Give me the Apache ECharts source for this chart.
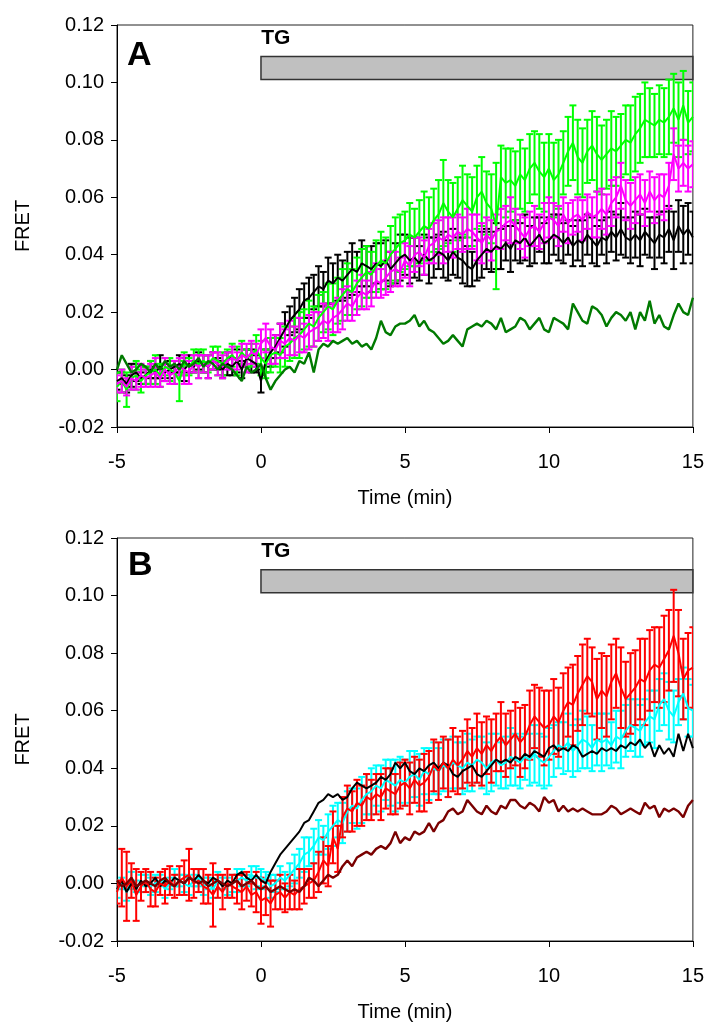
<!DOCTYPE html>
<html><head><meta charset="utf-8">
<script src="https://cdn.jsdelivr.net/npm/echarts@6/dist/echarts.min.js"></script>
<style>html,body{margin:0;padding:0;background:#fff}#c{width:707px;height:1026px}</style>
</head><body><div id="c"></div><script>
// Sampling: one point every 10 s from -5 to 15 min
const sampleStartMin = -5, sampleStepMin = 1 / 6, sampleCount = 121;
const times = Array.from({length: sampleCount}, (_, i) => +(sampleStartMin + i * sampleStepMin).toFixed(4));

const xTicks = [-5, 0, 5, 10, 15];
const yTicks = [-0.02, 0.00, 0.02, 0.04, 0.06, 0.08, 0.10, 0.12];
const tgBar = {start: 0, end: 15, bottom: 0.101, top: 0.109, label: 'TG'};

// ---------- Panel A ----------
const aBlack = [
-0.004,-0.003,-0.005,-0.002,-0.001,-0.003,
-0.002,0.000,-0.001,0.001,-0.001,0.000,
0.001,0.002,0.000,0.002,0.001,0.003,
0.002,0.001,0.003,0.002,0.000,0.002,
0.001,0.003,0.000,0.004,0.003,0.002,
-0.004,
0.003,0.006,0.008,0.011,0.014,
0.017,0.019,0.021,0.024,0.025,0.027,
0.029,0.028,0.031,0.030,0.032,0.031,
0.033,0.035,0.034,0.037,0.036,0.035,
0.037,0.036,0.038,0.035,0.037,0.039,
0.040,0.038,0.039,0.037,0.040,0.038,
0.039,0.041,0.040,0.038,0.041,0.039,
0.038,0.036,0.035,0.038,0.040,0.042,
0.041,0.043,0.042,0.044,0.042,0.045,
0.044,0.046,0.043,0.045,0.047,0.044,
0.045,0.047,0.046,0.044,0.046,0.043,
0.045,0.044,0.047,0.045,0.043,0.046,
0.045,0.048,0.046,0.049,0.046,0.045,
0.047,0.045,0.048,0.046,0.044,0.047,
0.046,0.049,0.045,0.050,0.047,0.049,
0.046];
const aBlackErr = [
0.003,0.002,0.003,0.004,0.003,0.002,
0.003,0.003,0.002,0.004,0.003,0.003,
0.002,0.003,0.004,0.003,0.002,0.003,
0.003,0.004,0.003,0.002,0.003,0.004,
0.003,0.004,0.003,0.003,0.004,0.003,
0.004,
0.004,0.005,0.004,0.005,0.006,
0.005,0.006,0.007,0.006,0.007,0.006,
0.007,0.006,0.008,0.007,0.008,0.007,
0.008,0.009,0.007,0.008,0.007,0.008,
0.007,0.008,0.007,0.006,0.007,0.008,
0.007,0.008,0.007,0.006,0.007,0.008,
0.007,0.006,0.008,0.007,0.008,0.007,
0.008,0.007,0.006,0.007,0.008,0.007,
0.007,0.008,0.007,0.006,0.008,0.007,
0.007,0.008,0.007,0.008,0.006,0.007,
0.008,0.007,0.008,0.007,0.006,0.007,
0.007,0.008,0.007,0.008,0.007,0.006,
0.008,0.007,0.008,0.009,0.007,0.008,
0.008,0.009,0.008,0.007,0.009,0.008,
0.009,0.008,0.010,0.009,0.010,0.009,
0.009];
const aLime = [
-0.006,-0.004,-0.007,-0.003,-0.002,-0.004,
-0.002,-0.001,0.000,-0.002,0.001,0.000,
-0.001,-0.004,0.002,0.001,0.003,0.002,
0.003,0.002,0.004,0.003,0.002,0.004,
0.005,0.003,0.006,0.004,0.005,0.007,
0.004,
0.002,0.005,0.006,0.005,0.008,
0.009,0.011,0.012,0.014,0.016,0.015,
0.018,0.020,0.022,0.021,0.024,0.026,
0.028,0.027,0.030,0.032,0.034,0.033,
0.036,0.038,0.037,0.040,0.042,0.044,
0.045,0.047,0.046,0.048,0.050,0.049,
0.052,0.054,0.058,0.055,0.053,0.056,
0.059,0.057,0.055,0.060,0.062,0.058,
0.056,0.050,0.067,0.065,0.066,0.064,
0.068,0.066,0.070,0.072,0.069,0.067,
0.070,0.066,0.068,0.072,0.076,0.079,
0.074,0.072,0.076,0.078,0.075,0.073,
0.075,0.077,0.076,0.078,0.080,0.079,
0.082,0.084,0.087,0.086,0.085,0.087,
0.086,0.088,0.091,0.087,0.092,0.086,
0.088];
const aLimeErr = [
0.005,0.004,0.006,0.004,0.005,0.004,
0.003,0.004,0.005,0.004,0.003,0.004,
0.004,0.007,0.004,0.003,0.004,0.005,
0.004,0.003,0.004,0.005,0.004,0.003,
0.004,0.005,0.004,0.003,0.004,0.005,
0.006,
0.005,0.006,0.005,0.006,0.007,
0.006,0.007,0.008,0.007,0.008,0.007,
0.008,0.007,0.008,0.009,0.008,0.009,
0.009,0.008,0.009,0.010,0.009,0.008,
0.009,0.010,0.009,0.010,0.011,0.010,
0.010,0.011,0.010,0.011,0.012,0.011,
0.011,0.012,0.015,0.011,0.012,0.011,
0.012,0.011,0.012,0.011,0.012,0.011,
0.012,0.022,0.011,0.012,0.011,0.012,
0.012,0.011,0.012,0.011,0.013,0.012,
0.012,0.013,0.012,0.011,0.012,0.013,
0.013,0.012,0.011,0.012,0.013,0.012,
0.012,0.013,0.012,0.011,0.012,0.013,
0.013,0.012,0.013,0.012,0.011,0.012,
0.012,0.013,0.012,0.013,0.012,0.011,
0.012];
const aMagenta = [
-0.005,-0.004,-0.006,-0.003,-0.004,-0.002,
-0.003,-0.002,-0.001,-0.003,0.000,-0.002,
-0.001,0.001,0.000,-0.001,0.002,0.001,
0.002,0.001,0.003,0.002,0.001,0.003,
0.004,0.003,0.005,0.004,0.006,0.005,
0.009,
0.011,0.008,0.007,0.010,0.009,
0.011,0.010,0.012,0.011,0.013,0.014,
0.015,0.017,0.016,0.018,0.019,0.021,
0.023,0.022,0.025,0.027,0.026,0.028,
0.031,0.030,0.032,0.034,0.035,0.034,
0.038,0.036,0.040,0.041,0.039,0.043,
0.044,0.046,0.045,0.047,0.046,0.048,
0.047,0.049,0.048,0.046,0.044,0.047,
0.045,0.048,0.049,0.051,0.052,0.050,
0.048,0.046,0.049,0.050,0.048,0.051,
0.053,0.052,0.050,0.054,0.051,0.053,
0.054,0.052,0.055,0.053,0.054,0.056,
0.054,0.058,0.060,0.064,0.059,0.057,
0.059,0.061,0.058,0.062,0.059,0.061,
0.060,0.064,0.075,0.070,0.072,0.070,
0.0715];
const aMagentaErr = [
0.003,0.004,0.003,0.004,0.003,0.004,
0.003,0.004,0.005,0.003,0.004,0.003,
0.004,0.003,0.005,0.004,0.003,0.004,
0.003,0.004,0.003,0.004,0.004,0.003,
0.004,0.003,0.004,0.005,0.004,0.004,
0.005,
0.005,0.006,0.005,0.006,0.005,
0.006,0.005,0.006,0.005,0.006,0.006,
0.005,0.006,0.006,0.005,0.006,0.007,
0.006,0.005,0.006,0.006,0.005,0.006,
0.006,0.005,0.006,0.007,0.006,0.005,
0.006,0.007,0.006,0.005,0.006,0.006,
0.007,0.006,0.008,0.006,0.007,0.006,
0.006,0.007,0.006,0.008,0.007,0.006,
0.007,0.006,0.007,0.006,0.008,0.006,
0.006,0.007,0.006,0.007,0.006,0.007,
0.007,0.006,0.007,0.006,0.007,0.006,
0.006,0.007,0.006,0.007,0.008,0.007,
0.007,0.008,0.007,0.008,0.007,0.008,
0.008,0.007,0.008,0.007,0.008,0.007,
0.008,0.008,0.009,0.008,0.008,0.008,
0.008];
const aDarkGreen = [
0.000,0.005,0.002,-0.001,0.000,0.002,
0.001,-0.001,0.002,0.000,0.003,0.001,
0.002,0.000,0.003,0.001,0.002,0.004,
0.001,0.003,0.002,0.000,0.002,0.001,
0.000,-0.002,-0.004,0.001,-0.001,0.000,
0.002,
-0.003,-0.007,-0.004,-0.002,0.000,
0.001,-0.001,0.003,0.002,0.006,-0.001,
0.007,0.009,0.008,0.010,0.009,0.010,
0.011,0.009,0.010,0.008,0.009,0.007,
0.011,0.017,0.013,0.012,0.015,0.016,
0.016,0.017,0.019,0.015,0.017,0.014,
0.013,0.011,0.009,0.010,0.012,0.010,
0.008,0.014,0.015,0.016,0.015,0.017,
0.016,0.014,0.018,0.013,0.014,0.015,
0.018,0.017,0.014,0.016,0.018,0.014,
0.013,0.018,0.017,0.016,0.014,0.023,
0.020,0.017,0.016,0.022,0.021,0.019,
0.015,0.018,0.020,0.019,0.017,0.020,
0.014,0.020,0.017,0.024,0.016,0.019,
0.015,0.014,0.019,0.023,0.020,0.019,
0.025];

// ---------- Panel B ----------
const bBlack = [
-0.002,0.001,-0.003,0.000,-0.002,0.001,
-0.001,0.000,0.002,-0.001,0.001,0.000,
0.002,0.001,0.000,0.002,0.001,0.003,
0.001,0.000,0.002,0.001,-0.001,0.001,
0.000,0.003,0.004,0.002,0.001,0.003,
0.001,
0.000,0.004,0.007,0.010,0.012,
0.014,0.016,0.018,0.021,0.022,0.025,
0.028,0.029,0.031,0.030,0.031,0.029,
0.030,0.033,0.035,0.034,0.033,0.034,
0.035,0.037,0.036,0.038,0.042,0.040,
0.042,0.039,0.038,0.040,0.039,0.041,
0.042,0.040,0.042,0.041,0.038,0.037,
0.039,0.040,0.041,0.038,0.037,0.039,
0.041,0.043,0.042,0.043,0.042,0.044,
0.043,0.045,0.044,0.046,0.045,0.044,
0.047,0.048,0.046,0.047,0.046,0.048,
0.047,0.044,0.045,0.046,0.045,0.047,
0.046,0.047,0.046,0.048,0.047,0.049,
0.048,0.050,0.047,0.049,0.044,0.048,
0.045,0.047,0.044,0.052,0.046,0.052,
0.047];
const bCyan = [
-0.002,0.000,-0.003,0.001,-0.001,0.000,
0.001,-0.001,0.000,0.001,-0.002,0.000,
0.002,0.001,0.000,-0.001,0.001,0.002,
-0.001,0.000,-0.002,0.001,0.000,-0.001,
0.000,0.001,0.002,0.001,0.003,0.002,
0.002,
0.001,-0.001,0.000,0.002,0.001,
0.003,0.005,0.007,0.010,0.011,0.013,
0.016,0.015,0.018,0.020,0.022,0.021,
0.025,0.027,0.026,0.029,0.031,0.032,
0.034,0.033,0.036,0.035,0.034,0.036,
0.035,0.037,0.038,0.036,0.039,0.038,
0.040,0.039,0.041,0.040,0.042,0.041,
0.040,0.042,0.041,0.043,0.042,0.040,
0.042,0.043,0.041,0.042,0.044,0.043,
0.042,0.044,0.043,0.045,0.043,0.042,
0.044,0.046,0.048,0.047,0.049,0.046,
0.048,0.050,0.049,0.047,0.050,0.049,
0.050,0.048,0.051,0.050,0.053,0.055,
0.054,0.053,0.056,0.058,0.057,0.062,
0.064,0.060,0.058,0.063,0.066,0.061,
0.060];
const bCyanErr = [
0.003,0.002,0.003,0.003,0.002,0.003,
0.002,0.003,0.003,0.002,0.003,0.002,
0.003,0.002,0.003,0.003,0.002,0.003,
0.003,0.002,0.003,0.003,0.002,0.003,
0.003,0.004,0.003,0.002,0.003,0.004,
0.003,
0.003,0.004,0.003,0.004,0.003,
0.004,0.005,0.005,0.006,0.005,0.006,
0.006,0.005,0.006,0.007,0.006,0.007,
0.007,0.006,0.007,0.008,0.007,0.008,
0.007,0.008,0.007,0.008,0.009,0.008,
0.008,0.009,0.008,0.009,0.008,0.009,
0.009,0.008,0.009,0.010,0.009,0.008,
0.009,0.010,0.009,0.008,0.009,0.009,
0.010,0.009,0.008,0.009,0.010,0.009,
0.009,0.008,0.009,0.010,0.009,0.009,
0.010,0.009,0.008,0.009,0.010,0.009,
0.009,0.010,0.009,0.008,0.009,0.010,
0.009,0.008,0.009,0.010,0.009,0.009,
0.010,0.009,0.008,0.009,0.010,0.009,
0.009,0.010,0.009,0.008,0.009,0.010,
0.009];
const bRed = [
-0.003,0.002,-0.001,0.001,-0.004,-0.001,
0.001,-0.002,-0.003,0.000,-0.001,0.001,
-0.001,0.001,0.002,0.003,0.000,0.001,
-0.001,-0.002,-0.004,-0.001,-0.003,0.000,
-0.001,-0.002,-0.003,-0.001,-0.004,-0.003,
-0.006,
-0.005,-0.007,-0.004,-0.003,-0.005,
-0.003,-0.004,-0.002,-0.001,0.000,0.001,
0.004,0.008,0.006,0.016,0.012,0.023,
0.026,0.025,0.028,0.027,0.030,0.029,
0.031,0.030,0.033,0.032,0.031,0.034,
0.035,0.033,0.036,0.034,0.035,0.037,
0.041,0.039,0.042,0.040,0.043,0.041,
0.043,0.046,0.044,0.047,0.045,0.048,
0.046,0.049,0.051,0.048,0.050,0.052,
0.049,0.051,0.055,0.058,0.056,0.054,
0.055,0.058,0.056,0.060,0.063,0.062,
0.066,0.069,0.072,0.070,0.064,0.067,
0.065,0.070,0.073,0.068,0.064,0.066,
0.068,0.071,0.070,0.074,0.076,0.075,
0.078,0.081,0.086,0.080,0.071,0.074,
0.075];
const bRedErr = [
0.004,0.010,0.012,0.006,0.009,0.005,
0.004,0.006,0.005,0.004,0.006,0.005,
0.004,0.005,0.006,0.009,0.005,0.004,
0.006,0.005,0.011,0.004,0.006,0.005,
0.004,0.005,0.006,0.005,0.004,0.007,
0.008,
0.006,0.008,0.005,0.006,0.005,
0.006,0.005,0.007,0.006,0.005,0.006,
0.007,0.008,0.007,0.009,0.008,0.007,
0.008,0.007,0.008,0.007,0.008,0.007,
0.007,0.008,0.007,0.008,0.007,0.008,
0.008,0.009,0.008,0.009,0.010,0.009,
0.009,0.010,0.009,0.010,0.011,0.010,
0.010,0.011,0.010,0.012,0.011,0.010,
0.011,0.010,0.012,0.011,0.010,0.011,
0.012,0.011,0.012,0.011,0.012,0.013,
0.012,0.013,0.012,0.013,0.012,0.014,
0.013,0.014,0.013,0.012,0.014,0.013,
0.014,0.013,0.012,0.014,0.013,0.014,
0.013,0.014,0.015,0.014,0.013,0.014,
0.015,0.014,0.016,0.015,0.014,0.013,
0.014];
const bDarkRed = [
0.001,-0.001,0.000,0.002,-0.001,0.000,
0.001,0.000,-0.001,0.001,0.002,0.000,
-0.001,0.001,0.000,0.002,0.001,0.000,
0.001,-0.001,0.000,0.001,0.000,-0.001,
0.000,0.001,-0.001,0.000,0.001,-0.001,
-0.002,
-0.001,-0.003,-0.002,-0.001,-0.002,
-0.003,-0.002,-0.003,-0.001,0.002,0.001,
-0.001,0.001,0.003,0.002,0.003,0.006,
0.008,0.006,0.009,0.010,0.011,0.010,
0.012,0.013,0.012,0.014,0.018,0.014,
0.016,0.015,0.018,0.017,0.018,0.021,
0.018,0.021,0.022,0.025,0.026,0.024,
0.025,0.029,0.027,0.025,0.024,0.027,
0.025,0.024,0.027,0.026,0.029,0.029,
0.027,0.026,0.028,0.027,0.025,0.030,
0.028,0.029,0.025,0.027,0.025,0.026,
0.025,0.026,0.025,0.024,0.024,0.024,
0.025,0.027,0.026,0.024,0.025,0.026,
0.025,0.024,0.028,0.026,0.027,0.023,
0.026,0.025,0.026,0.025,0.023,0.027,
0.029];

const FONT = "'Liberation Sans', Arial, Helvetica, sans-serif";

function pairs(vals) { return times.map((t, i) => [t, vals[i]]); }
function triples(vals, errs) { return times.map((t, i) => [t, vals[i], errs[i]]); }

function errSeries(idx, vals, errs, color) {
  return {
    type: 'custom', xAxisIndex: idx, yAxisIndex: idx, data: triples(vals, errs), clip: true,
    silent: true,
    renderItem: function (params, api) {
      const x = api.value(0), y = api.value(1), e = api.value(2);
      const top = api.coord([x, y + e]);
      const bot = api.coord([x, y - e]);
      const hw = 3.5;
      const st = {stroke: color, lineWidth: 2};
      return {type: 'group', children: [
        {type: 'line', shape: {x1: top[0], y1: top[1], x2: bot[0], y2: bot[1]}, style: st},
        {type: 'line', shape: {x1: top[0] - hw, y1: top[1], x2: top[0] + hw, y2: top[1]}, style: st},
        {type: 'line', shape: {x1: bot[0] - hw, y1: bot[1], x2: bot[0] + hw, y2: bot[1]}, style: st}
      ]};
    }
  };
}
function lineSeries(idx, vals, color, width, extra) {
  return Object.assign({
    type: 'line', xAxisIndex: idx, yAxisIndex: idx, data: pairs(vals), showSymbol: false,
    symbol: 'none', silent: true,
    lineStyle: {color: color, width: width || 2}, itemStyle: {color: color}
  }, extra || {});
}
function tgMark() {
  return {
    silent: true,
    itemStyle: {color: '#C0C0C0', borderColor: '#333', borderWidth: 1.5, opacity: 1},
    label: {show: true, formatter: tgBar.label, position: [1, -28], fontSize: 21, fontWeight: 'bold',
      color: '#000', fontFamily: FONT},
    data: [[{xAxis: tgBar.start, yAxis: tgBar.bottom}, {xAxis: tgBar.end, yAxis: tgBar.top}]]
  };
}

function xAxisCfg(idx) {
  return {
    type: 'value', gridIndex: idx, min: xTicks[0], max: xTicks[xTicks.length - 1], interval: 5,
    name: 'Time (min)', nameLocation: 'middle', nameGap: 61,
    nameTextStyle: {fontSize: 20, color: '#000', fontFamily: FONT},
    axisLine: {onZero: false, lineStyle: {color: '#000', width: 1}},
    axisTick: {length: 6, lineStyle: {color: '#000', width: 1}},
    axisLabel: {fontSize: 20, color: '#000', margin: 25, fontFamily: FONT},
    splitLine: {show: false}
  };
}
function yAxisCfg(idx) {
  return {
    type: 'value', gridIndex: idx, min: yTicks[0], max: yTicks[yTicks.length - 1], interval: 0.02,
    name: 'FRET', nameLocation: 'middle', nameGap: 84, nameRotate: 90,
    nameTextStyle: {fontSize: 20, color: '#000', fontFamily: FONT},
    axisLine: {onZero: false, lineStyle: {color: '#000', width: 1}},
    axisTick: {length: 6, lineStyle: {color: '#000', width: 1}},
    axisLabel: {fontSize: 20, color: '#000', margin: 13, fontFamily: FONT,
      formatter: v => (Math.abs(v) < 1e-9 ? 0 : v).toFixed(2)},
    splitLine: {show: false}
  };
}

const chart = echarts.init(document.getElementById('c'), null, {renderer: 'canvas'});
chart.setOption({
  animation: false,
  backgroundColor: '#fff',
  title: [
    {text: 'A', left: 127, top: 39, padding: 0, textStyle: {fontSize: 34, fontWeight: 'bold', color: '#000', fontFamily: FONT}},
    {text: 'B', left: 128, top: 549, padding: 0, textStyle: {fontSize: 34, fontWeight: 'bold', color: '#000', fontFamily: FONT}}
  ],
  grid: [
    {left: 117, top: 25, width: 577, height: 402, show: true, borderColor: '#222', borderWidth: 1, backgroundColor: 'transparent'},
    {left: 117, top: 538, width: 577, height: 403, show: true, borderColor: '#222', borderWidth: 1, backgroundColor: 'transparent'}
  ],
  xAxis: [xAxisCfg(0), xAxisCfg(1)],
  yAxis: [yAxisCfg(0), yAxisCfg(1)],
  series: [
    errSeries(0, aBlack, aBlackErr, '#000000'),
    lineSeries(0, aBlack, '#000000', 2, {markArea: tgMark()}),
    errSeries(0, aLime, aLimeErr, '#00FF00'),
    lineSeries(0, aLime, '#00FF00', 2),
    errSeries(0, aMagenta, aMagentaErr, '#FF00FF'),
    lineSeries(0, aMagenta, '#FF00FF', 2),
    lineSeries(0, aDarkGreen, '#007A00', 2.4),

    errSeries(1, bCyan, bCyanErr, '#00FFFF'),
    lineSeries(1, bCyan, '#00FFFF', 2, {markArea: tgMark()}),
    lineSeries(1, bBlack, '#000000', 2),
    errSeries(1, bRed, bRedErr, '#FF0000'),
    lineSeries(1, bRed, '#FF0000', 2),
    lineSeries(1, bDarkRed, '#7A0000', 2.4)
  ]
});
[aBlack, aBlackErr, aLime, aLimeErr, aMagenta, aMagentaErr, aDarkGreen, bBlack, bCyan, bCyanErr, bRed, bRedErr, bDarkRed]
  .forEach((a, k) => { if (a.length !== sampleCount) console.error('length mismatch', k, a.length); });
</script></body></html>
